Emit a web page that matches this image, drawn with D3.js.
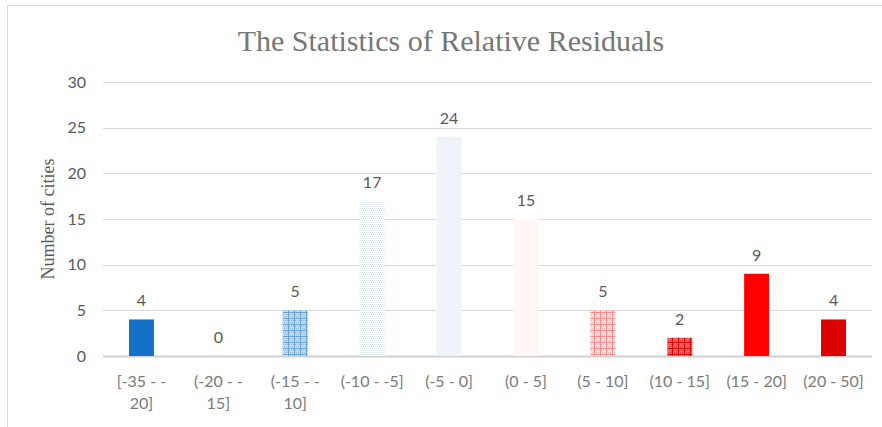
<!DOCTYPE html>
<html>
<head>
<meta charset="utf-8">
<script src="https://cdn.jsdelivr.net/npm/d3@7"></script>
<style>
  body { margin: 0; background: #fff; }
</style>
</head>
<body>
<div id="root"></div>
<script>
const categories = ["[-35 - -20]", "(-20 - -15]", "(-15 - -10]", "(-10 - -5]", "(-5 - 0]",
  "(0 - 5]", "(5 - 10]", "(10 - 15]", "(15 - 20]", "(20 - 50]"];
const counts = [4, 0, 5, 17, 24, 15, 5, 2, 9, 4];
const yTicks = [0, 5, 10, 15, 20, 25, 30];

const width = 882, height = 427;
const plotLeft = 103, plotRight = 872, plotTop = 82, plotBottom = 356;
const sans = "Lato, 'Noto Sans', sans-serif";
const serif = "'Liberation Serif', 'Times New Roman', serif";

const svg = d3.select("#root").append("svg")
  .attr("width", width)
  .attr("height", height);

// chart frame
svg.append("rect")
  .attr("x", 7.5).attr("y", 5.5)
  .attr("width", 900).attr("height", 500)
  .attr("fill", "none")
  .attr("stroke", "#d9d9d9");

// patterns
const defs = svg.append("defs");
function gridPattern(id, bg, dot, line, size) {
  const p = defs.append("pattern").attr("id", id)
    .attr("patternUnits", "userSpaceOnUse")
    .attr("width", size).attr("height", size);
  p.append("rect").attr("width", size).attr("height", size).attr("fill", bg);
  for (let i = 0; i < size; i += 2) {
    for (let j = (i / 2) % 2; j < size; j += 2) {
      p.append("rect").attr("x", j).attr("y", i).attr("width", 1).attr("height", 1).attr("fill", dot);
    }
  }
  if (line) {
    p.append("rect").attr("x", 0).attr("y", 0).attr("width", size).attr("height", 1).attr("fill", line);
    p.append("rect").attr("x", 0).attr("y", 0).attr("width", 1).attr("height", size).attr("fill", line);
  }
}
gridPattern("p3", "#c4dcf4", "#8ab6e6", "#6aa2dc", 6);
gridPattern("p4", "#ffffff", "#cfe2f6", null, 4);
gridPattern("p7", "#ffe4e4", "#ffb4b4", "#ff8a8a", 6);
gridPattern("p8", "#ff6a6a", "#ff3030", "#e00000", 6);

const fills = ["#1570c8", "none", "url(#p3)", "url(#p4)", "#eef3f9",
  "#fff7f5", "url(#p7)", "url(#p8)", "#ff0000", "#dc0000"];

const x = d3.scaleBand().domain(categories).range([plotLeft, plotRight]);
const y = d3.scaleLinear().domain([0, 30]).range([plotBottom, plotTop]);

// gridlines
svg.append("g")
  .selectAll("line")
  .data(yTicks)
  .join("line")
  .attr("x1", plotLeft).attr("x2", plotRight)
  .attr("y1", d => Math.round(y(d)) + 0.5)
  .attr("y2", d => Math.round(y(d)) + 0.5)
  .attr("stroke", d => d === 0 ? "#d0d0d0" : "#d9d9d9")
  .attr("stroke-width", d => d === 0 ? 2 : 1);

// y axis labels
const yAxis = d3.axisLeft(y).tickValues(yTicks).tickSize(0).tickPadding(0);
svg.append("g")
  .attr("transform", `translate(86,0)`)
  .call(yAxis)
  .call(g => g.select(".domain").remove())
  .selectAll("text")
  .attr("font-size", 16)
  .attr("font-family", sans)
  .attr("fill", "#595959");

// bars
const barW = 25;
svg.append("g")
  .selectAll("rect")
  .data(counts)
  .join("rect")
  .attr("x", (d, i) => x(categories[i]) + x.bandwidth() / 2 - barW / 2)
  .attr("y", d => y(d))
  .attr("width", barW)
  .attr("height", d => y(0) - y(d))
  .attr("fill", (d, i) => fills[i]);

// data labels
svg.append("g")
  .selectAll("text")
  .data(counts)
  .join("text")
  .attr("x", (d, i) => x(categories[i]) + x.bandwidth() / 2)
  .attr("y", d => y(d) - 13)
  .attr("text-anchor", "middle")
  .attr("font-family", sans)
  .attr("font-size", 16)
  .attr("fill", "#595959")
  .text(d => d);

// category labels with wrapping
const xAxis = d3.axisBottom(x).tickSize(0).tickPadding(0);
const xg = svg.append("g")
  .attr("transform", `translate(0,${plotBottom})`)
  .call(xAxis)
  .call(g => g.select(".domain").remove());
xg.selectAll("text")
  .attr("font-size", 16)
  .attr("font-family", sans)
  .attr("fill", "#7a7a7a")
  .attr("dy", null)
  .attr("y", 31)
  .each(function (d) { wrap(d3.select(this), 68); });

function wrap(text, maxW) {
  const tokens = text.text().split(/(?<=[ -])/);
  text.text(null);
  let line = "";
  let lines = [];
  const probe = text.append("tspan");
  tokens.forEach(t => {
    probe.text(line + t);
    if (line && probe.node().getComputedTextLength() > maxW) {
      lines.push(line);
      line = t;
    } else {
      line += t;
    }
  });
  lines.push(line);
  probe.remove();
  lines.forEach((l, i) => {
    text.append("tspan").attr("x", 0).attr("dy", i === 0 ? 0 : 22).text(l.trim());
  });
}

// title
svg.append("text")
  .attr("x", 451)
  .attr("y", 51)
  .attr("text-anchor", "middle")
  .attr("font-family", serif)
  .attr("font-size", 30)
  .attr("fill", "#767676")
  .text("The Statistics of Relative Residuals");

// y axis title
svg.append("text")
  .attr("transform", `translate(54,${(plotTop + plotBottom) / 2}) rotate(-90)`)
  .attr("text-anchor", "middle")
  .attr("font-family", serif)
  .attr("font-size", 18)
  .attr("fill", "#595959")
  .text("Number of cities");
</script>
</body>
</html>
